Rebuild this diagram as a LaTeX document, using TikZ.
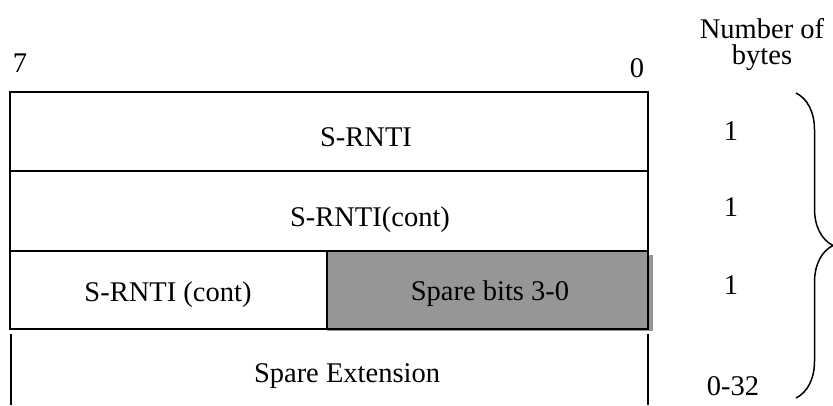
\documentclass[tikz,border=0pt]{standalone}
\usepackage{fontspec}
\setmainfont{Liberation Serif}
\usetikzlibrary{decorations.pathreplacing}
\definecolor{sparegray}{RGB}{150,150,150}

\begin{document}
\begin{tikzpicture}[x=1pt,y=-1pt,
  txt/.style={font=\fontsize{28.5}{32}\selectfont, inner sep=0pt, anchor=base},
  frame/.style={line width=2pt}]
\useasboundingbox (0,0) rectangle (833,405);
% grey spare bits field, with its slight offset shade
\fill[sparegray] (327,255) rectangle (653,331);
\fill[sparegray] (327,251) rectangle (648,329);
% the three octets
\draw[frame] (10,92) rectangle (648,329);
\draw[frame] (10,171) -- (648,171);
\draw[frame] (10,251) -- (648,251);
\draw[frame] (327,251) -- (327,329);
% open spare extension
\draw[line width=1.6pt] (11,334) -- (11,405);
\draw[line width=1.6pt] (648,334) -- (648,405);
% bit numbers
\node[txt] (msb) at (20,72) {7};
\node[txt] (lsb) at (637,77) {0};
% field names
\node[txt] (srnti) at (366,146) {S-RNTI};
\node[txt] (srnticont) at (370,226) {S-RNTI(cont)};
\node[txt] (srntilast) at (168,301) {S-RNTI (cont)};
\node[txt] (sparebits) at (490,300) {Spare bits 3-0};
\node[txt] (spareext) at (347,382) {Spare Extension};
% byte counts
\node[txt] (head) at (762,38) {Number of};
\node[txt] (headb) at (762,64) {bytes};
\node[txt] (n1) at (731,140) {1};
\node[txt] (n2) at (731,216) {1};
\node[txt] (n3) at (731,294) {1};
\node[txt] (n4) at (733,395) {0-32};
\coordinate (bracetop) at (796,93);
\coordinate (bracebot) at (796,398);
\draw[line width=1.5pt, decorate, decoration={brace, amplitude=37pt}] (bracetop) -- (bracebot);
\end{tikzpicture}
\end{document}
